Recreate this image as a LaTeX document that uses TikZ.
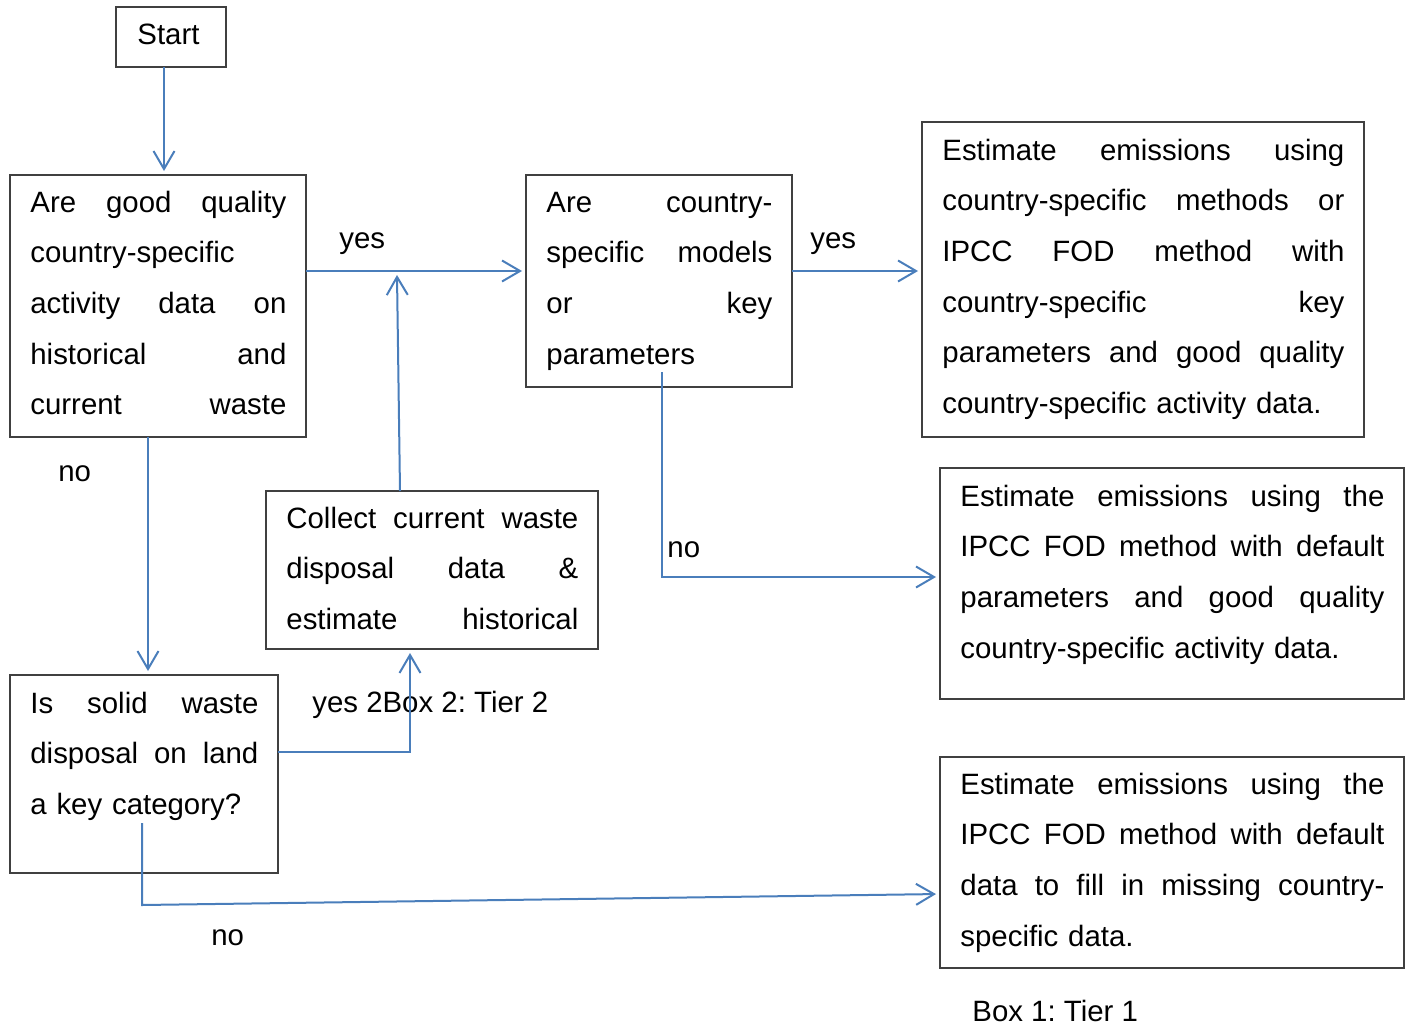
\documentclass[tikz,border=0pt]{standalone}
\usepackage{fontspec}
\setmainfont{Liberation Sans}
\usetikzlibrary{arrows.meta,calc,fit}
\definecolor{flowblue}{RGB}{74,126,187}
\definecolor{boxgray}{RGB}{64,64,64}
\frenchspacing
\begin{document}
\begin{tikzpicture}[x=0.5pt,y=-0.5pt,
  box/.style={draw=boxgray, line width=0.8pt, inner sep=0pt, outer sep=0pt},
  txt/.style={anchor=base west, inner sep=0pt, text width=#1, align=left,
              font=\fontsize{14.7pt}{25.35pt}\selectfont},
  lbl/.style={anchor=base west, inner sep=0pt, font=\fontsize{14.7pt}{25.35pt}\selectfont},
  arr/.style={draw=flowblue, line width=1pt,
              -{Straight Barb[length=9pt,width=10.5pt,line width=1pt]}, shorten >=2pt}]
\useasboundingbox (0,0) rectangle (1408,1028);

% boxes
\node[box, fit={(116,7) (226,67)}]    (Start) {};
\node[box, fit={(10,175) (306,437)}]  (A) {};
\node[box, fit={(526,175) (792,387)}] (B) {};
\node[box, fit={(922,122) (1364,437)}] (C) {};
\node[box, fit={(940,468) (1404,699)}] (D) {};
\node[box, fit={(940,757) (1404,968)}] (E) {};
\node[box, fit={(266,491) (598,649)}] (F) {};
\node[box, fit={(10,675) (278,873)}]  (G) {};

% box texts (justified lines spread with \hfill, last lines ragged)
\node[lbl] (StartT) at (137,44) {Start};
\node[txt=128pt] (At) at (30,212) {Are\hfill good\hfill quality\\
  country-specific\\
  activity\hfill data\hfill on\\
  historical\hfill and\\
  current\hfill waste\\};
\node[txt=113pt] (Bt) at (546,212) {Are\hfill country-\\
  specific\hfill models\\
  or\hfill key\\
  parameters};
\node[txt=201pt] (Ct) at (942,160) {Estimate\hfill emissions\hfill using\\
  country-specific\hfill methods\hfill or\\
  IPCC\hfill FOD\hfill method\hfill with\\
  country-specific\hfill key\\
  parameters\hfill and\hfill good\hfill quality\\
  country-specific activity data.};
\node[txt=212pt] (Dt) at (960,506) {Estimate\hfill emissions\hfill using\hfill the\\
  IPCC\hfill FOD\hfill method\hfill with\hfill default\\
  parameters\hfill and\hfill good\hfill quality\\
  country-specific activity data.};
\node[txt=212pt] (Et) at (960,794) {Estimate\hfill emissions\hfill using\hfill the\\
  IPCC\hfill FOD\hfill method\hfill with\hfill default\\
  data\hfill to\hfill fill\hfill in\hfill missing\hfill country-\\
  specific data.};
\node[txt=146pt] (Ft) at (286,528) {Collect\hfill current\hfill waste\\
  disposal\hfill data\hfill \&\\
  estimate\hfill historical\\};
\node[txt=114pt] (Gt) at (30,713) {Is\hfill solid\hfill waste\\
  disposal\hfill on\hfill land\\
  a key category?};

% connector labels
\node[lbl] (yesAB) at (339,248) {yes};
\node[lbl] (yesBC) at (810,248) {yes};
\node[lbl] (noAG)  at (58,481)  {no};
\node[lbl] (noBD)  at (667,557) {no};
\node[lbl] (yesGF) at (312,712) {yes 2Box 2: Tier 2};
\node[lbl] (noGE)  at (211,945) {no};
\node[lbl] (tier1) at (972,1021) {Box 1: Tier 1};

% connectors
\draw[arr] ([xshift=-3.5pt]Start.south) coordinate (s0) -- (s0 |- A.north);
\draw[arr] ([yshift=17.5pt]A.east) coordinate (ab) -- coordinate[pos=0.4136] (j) (ab -| B.west);
\draw[arr] ([yshift=5pt]B.east) coordinate (bc) -- (bc -| C.west);
\draw[arr] ([xshift=-5pt]A.south) coordinate (ag) -- (ag |- G.north);
\draw[arr, shorten >=0pt] ([xshift=-16pt]F.north) -- ([yshift=-2pt]j);
\draw[arr] ([xshift=1.5pt,yshift=7.5pt]B.south) |- ([yshift=3.25pt]D.west);
\draw[arr] ([yshift=11pt]G.east) -| ([xshift=-11pt]F.south);
\draw[arr] ([xshift=-1pt,yshift=25pt]G.south) -- ([xshift=-1pt,yshift=-16pt]G.south) -- ([yshift=-15.75pt]E.west);
\end{tikzpicture}
\end{document}
